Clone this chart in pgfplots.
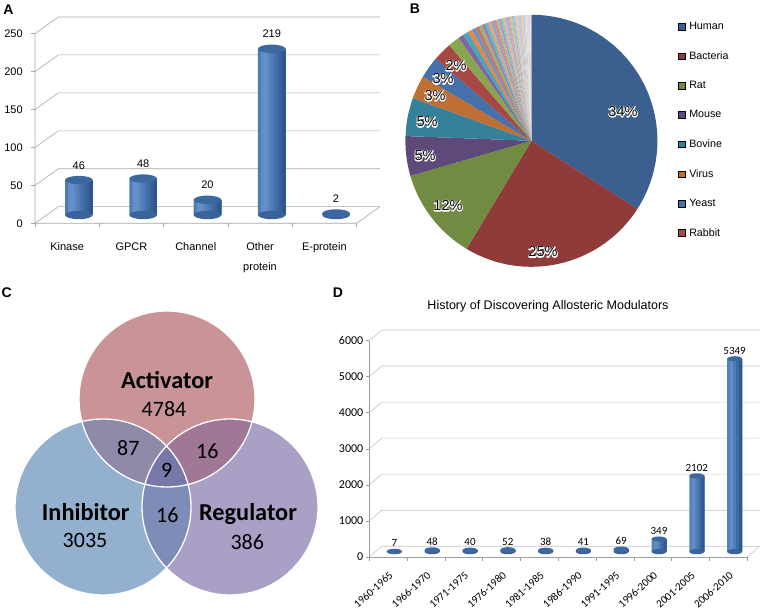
\documentclass[border=0pt]{standalone}
\usepackage{fontspec}
\setmainfont{Liberation Sans}
\newfontfamily\calfont{Carlito}
\usepackage{pgfplots}
\pgfplotsset{compat=1.18}
\usepackage{pgfplotstable}

\definecolor{cylT}{HTML}{3C689F}
\definecolor{cylB}{HTML}{3A6399}
\definecolor{sA1}{HTML}{4E7CB5}
\definecolor{sA2}{HTML}{618EC7}
\definecolor{sA3}{HTML}{6491CA}
\definecolor{sA4}{HTML}{5A87C1}
\definecolor{sA5}{HTML}{4F7DB7}
\definecolor{sA6}{HTML}{4573AE}
\definecolor{sA7}{HTML}{3E69A2}
\definecolor{sA8}{HTML}{365F96}
\definecolor{sA9}{HTML}{2F558A}
\definecolor{sD1}{HTML}{5683BC}
\definecolor{sD2}{HTML}{628FC8}
\definecolor{sD3}{HTML}{4F7DB7}
\definecolor{sD4}{HTML}{3F6BA4}
\definecolor{sD5}{HTML}{32598F}
\definecolor{gridA}{HTML}{A6A6A6}
\definecolor{gridD}{HTML}{C4C4C4}
\definecolor{pH}{HTML}{3B5F8E}
\definecolor{pB}{HTML}{8E3B3A}
\definecolor{pR}{HTML}{728B43}
\definecolor{pM}{HTML}{5E4A7A}
\definecolor{pBo}{HTML}{36819A}
\definecolor{pVi}{HTML}{C06F34}
\definecolor{pYe}{HTML}{4670AA}
\definecolor{pRa}{HTML}{A84845}
\definecolor{sG}{HTML}{8AA552}
\definecolor{sP}{HTML}{7E65A0}
\definecolor{sT}{HTML}{4BA3BC}
\definecolor{sO}{HTML}{E08A45}
\definecolor{sB}{HTML}{5A87C2}
\definecolor{sR}{HTML}{C0605C}
\definecolor{vA}{HTML}{C99398}
\definecolor{vI}{HTML}{93B0CF}
\definecolor{vR}{HTML}{AAA0C6}
\definecolor{vAI}{HTML}{8E8AA8}
\definecolor{vAR}{HTML}{A07896}
\definecolor{vIR}{HTML}{7D8DB8}
\definecolor{vAIR}{HTML}{7878A8}

\pgfdeclareplotmark{ellA}{\pgfpathellipse{\pgfpointorigin}{\pgfqpoint{13.8pt}{0pt}}{\pgfqpoint{0pt}{4.2pt}}\pgfusepathqfill}
\pgfdeclareplotmark{ellD}{\pgfpathellipse{\pgfpointorigin}{\pgfqpoint{7.5pt}{0pt}}{\pgfqpoint{0pt}{2.6pt}}\pgfusepathqfill}

\pgfplotsset{
  /pgf/number format/assume math mode=true,
  /pgf/number format/1000 sep={},
  piesq/.style={legend image code/.code={\fill[##1] (0pt,-3.3pt) rectangle (6.6pt,3.3pt);}},
  stripe/.style n args={3}{ybar, bar width=#1, bar shift=#2, fill=#3, draw=none},
}

\pgfplotstableread{
x y b
0 46 0
1 48 0
2 20 0
3 219 0
4 2 0
}\dataA

\pgfplotstableread{
x y b
0 7 0
1 48 0
2 40 0
3 52 0
4 38 0
5 41 0
6 69 0
7 349 0
8 2102 0
9 5349 0
}\dataD

\newcommand\pielab{\fontsize{14.5}{16}\selectfont}
\newcommand\halo[3]{%
  \node[text=white, font=\pielab] at (#1pt,#2pt) {\special{pdf:literal direct 1 Tr 1.8 w 1 j}#3\special{pdf:literal direct 0 Tr}};%
  \node[text=black, font=\pielab] at (#1pt,#2pt) {#3};}
\newcommand\vbig{\calfont\bfseries\fontsize{24.3}{27}\selectfont}
\newcommand\vnum{\calfont\fontsize{22}{25}\selectfont}

\begin{document}
\begin{tikzpicture}
\useasboundingbox (0,0) rectangle (763pt,612pt);

% ---------------- Panel A ----------------
\begin{axis}[at={(46.7pt,397pt)}, anchor=south west, scale only axis,
  width=321.5pt, height=189.7pt, xmin=-0.5, xmax=4.5, ymin=0, ymax=250,
  clip=false, axis line style={draw=none}, tick style={draw=none}, major tick length=0pt,
  xtick={0,...,4}, xticklabels={Kinase,GPCR,Channel,{Other\\protein},E-protein},
  xticklabel style={align=center, font=\fontsize{11}{20}\selectfont, xshift=-11.7pt, yshift=-24.3pt, anchor=north},
  ytick={0,50,...,250},
  yticklabel style={font=\fontsize{11}{13}\selectfont, anchor=east, xshift=-20.5pt, yshift=-8.3pt}]
\pgfplotsinvokeforeach{0,50,...,250}{
  \draw[gridA, line width=0.6pt] ([shift={(-11.7pt,-8.3pt)}]axis cs:-0.5,#1) -- ([shift={(11.7pt,8.3pt)}]axis cs:-0.5,#1) -- ([shift={(11.7pt,8.3pt)}]axis cs:4.5,#1);
  \draw[gridA, line width=0.6pt] ([shift={(-11.7pt,-8.3pt)}]axis cs:-0.5,#1) -- ++(-4pt,0pt);
}
\draw[gridA, line width=0.6pt] ([shift={(-11.7pt,-8.3pt)}]axis cs:-0.5,250) -- ([shift={(-11.7pt,-8.3pt)}]axis cs:-0.5,0) -- ([shift={(-11.7pt,-8.3pt)}]axis cs:4.5,0) -- ([shift={(11.7pt,8.3pt)}]axis cs:4.5,0);
\pgfplotsinvokeforeach{-0.5,0.5,...,4.5}{
  \draw[gridA, line width=0.6pt] ([shift={(-11.7pt,-8.3pt)}]axis cs:#1,0) -- ++(0pt,-4pt);
}
\addplot[only marks, mark=ellA, mark options={fill=cylB, draw=none}] table[x=x, y=b] {\dataA};
\addplot[stripe={27.6pt}{0pt}{sA1}] table[x=x, y=y] {\dataA};
\addplot[stripe={24.53pt}{1.533pt}{sA2}] table[x=x, y=y] {\dataA};
\addplot[stripe={21.47pt}{3.067pt}{sA3}] table[x=x, y=y] {\dataA};
\addplot[stripe={18.4pt}{4.6pt}{sA4}] table[x=x, y=y] {\dataA};
\addplot[stripe={15.33pt}{6.133pt}{sA5}] table[x=x, y=y] {\dataA};
\addplot[stripe={12.27pt}{7.667pt}{sA6}] table[x=x, y=y] {\dataA};
\addplot[stripe={9.2pt}{9.2pt}{sA7}] table[x=x, y=y] {\dataA};
\addplot[stripe={6.13pt}{10.733pt}{sA8}] table[x=x, y=y] {\dataA};
\addplot[stripe={3.07pt}{12.267pt}{sA9}] table[x=x, y=y] {\dataA};
\addplot[only marks, mark=ellA, mark options={fill=cylT, draw=none}, nodes near coords,
  every node near coord/.append style={text=black, anchor=base, yshift=11pt, font=\fontsize{11}{13}\selectfont}]
  table[x=x, y=y] {\dataA};
\end{axis}

% ---------------- Panel B ----------------
\begin{axis}[at={(405.4pt,345.2pt)}, anchor=south west, scale only axis,
  width=252pt, height=252pt, xmin=-1, xmax=1, ymin=-1, ymax=1, hide axis, clip=false,
  legend cell align=left,
  legend style={at={(1.082,0.979)}, anchor=north west, draw=none, fill=none,
    font=\fontsize{10.7}{12}\selectfont, row sep=16.4pt, column sep=2pt, inner sep=0pt}]
\gdef\pieangle{90}
\foreach \v/\c in {34.1/pH, 24.5/pB, 11.9/pR, 5.1/pM, 4.9/pBo, 3.0/pVi, 2.8/pYe, 2.4/pRa,
  1.5/sG, 0.7/sP, 0.7/sT, 0.6/sO, 0.5/sB!90!white, 0.45/sR!88!white, 0.45/sG!85!white,
  0.4/sP!82!white, 0.4/sT!80!white, 0.4/sO!78!white, 0.35/sB!75!white, 0.35/sR!72!white,
  0.3/sG!70!white, 0.3/sP!67!white, 0.3/sT!64!white, 0.3/sO!62!white, 0.28/sB!60!white,
  0.28/sR!57!white, 0.26/sG!55!white, 0.26/sP!52!white, 0.25/sT!50!white, 0.25/sO!47!white,
  0.22/sB!45!white, 0.22/sR!42!white, 0.2/sG!40!white, 0.2/sP!37!white, 0.2/sT!35!white,
  0.2/sO!32!white, 0.18/sB!30!white, 0.18/sR!28!white, 0.12/gray!25!white}{%
  \pgfmathsetmacro\pend{\pieangle-3.6*\v}%
  \edef\tmp{\noexpand\fill[\c] (axis cs:0,0) -- (axis cs:{cos(\pieangle)},{sin(\pieangle)}) arc[start angle=\pieangle, end angle=\pend, radius=126pt] -- cycle;}%
  \tmp
  \xdef\pieangle{\pend}%
}
\addlegendimage{piesq, fill=pH}
\addlegendimage{piesq, fill=pB}
\addlegendimage{piesq, fill=pR}
\addlegendimage{piesq, fill=pM}
\addlegendimage{piesq, fill=pBo}
\addlegendimage{piesq, fill=pVi}
\addlegendimage{piesq, fill=pYe}
\addlegendimage{piesq, fill=pRa}
\legend{Human,Bacteria,Rat,Mouse,Bovine,Virus,Yeast,Rabbit}
\end{axis}
\halo{623}{500.3}{34\%}
\halo{543}{360}{25\%}
\halo{448}{406.3}{12\%}
\halo{425}{456.3}{5\%}
\halo{427}{490}{5\%}
\halo{435}{516.3}{3\%}
\halo{443}{533}{3\%}
\halo{456}{546.3}{2\%}

% ---------------- Panel C ----------------
\begin{axis}[at={(0pt,0pt)}, anchor=south west, scale only axis,
  width=330pt, height=340pt, xmin=0, xmax=330, ymin=0, ymax=340, hide axis, clip=false]
\fill[vA] (axis cs:167,213) circle[radius=88pt];
\fill[vI] (axis cs:103,105) circle[radius=88pt];
\fill[vR] (axis cs:230,105) circle[radius=88pt];
\begin{scope}
\clip (axis cs:103,105) circle[radius=88pt];
\fill[vIR] (axis cs:230,105) circle[radius=88pt];
\end{scope}
\begin{scope}
\clip (axis cs:167,213) circle[radius=88pt];
\fill[vAI] (axis cs:103,105) circle[radius=88pt];
\fill[vAR] (axis cs:230,105) circle[radius=88pt];
\clip (axis cs:103,105) circle[radius=88pt];
\fill[vAIR] (axis cs:230,105) circle[radius=88pt];
\end{scope}
\draw[white, line width=1.3pt] (axis cs:167,213) circle[radius=88pt];
\draw[white, line width=1.3pt] (axis cs:103,105) circle[radius=88pt];
\draw[white, line width=1.3pt] (axis cs:230,105) circle[radius=88pt];
\node[font=\vbig] at (axis cs:167,232) {Activator};
\node[font=\vnum] at (axis cs:164,202.5) {4784};
\node[font=\vnum] at (axis cs:128.3,163.7) {87};
\node[font=\vnum] at (axis cs:207.3,161.3) {16};
\node[font=\vnum] at (axis cs:166.7,141.3) {9};
\node[font=\vnum] at (axis cs:167.3,97) {16};
\node[font=\vbig] at (axis cs:85.7,99.7) {Inhibitor};
\node[font=\vnum] at (axis cs:85,72) {3035};
\node[font=\vbig] at (axis cs:248,98) {Regulator};
\node[font=\vnum] at (axis cs:247.3,70.3) {386};
\end{axis}

% ---------------- Panel D ----------------
\begin{axis}[at={(375.5pt,60.35pt)}, anchor=south west, scale only axis,
  width=378pt, height=216.3pt, xmin=-0.5, xmax=9.5, ymin=0, ymax=6000,
  clip=false, axis line style={draw=none}, tick style={draw=none}, major tick length=0pt,
  scaled y ticks=false,
  xtick={0,...,9},
  xticklabels={1960-1965,1966-1970,1971-1975,1976-1980,1981-1985,1986-1990,1991-1995,1996-2000,2001-2005,2006-2010},
  xticklabel style={font=\calfont\fontsize{11}{13}\selectfont, xshift=-2.5pt, yshift=-21.3pt, rotate=42, anchor=east, inner sep=1pt},
  ytick={0,1000,...,6000},
  yticklabel style={font=\calfont\fontsize{12}{14}\selectfont, anchor=east, xshift=-8.7pt, yshift=-5.35pt}]
\pgfplotsinvokeforeach{0,1000,...,6000}{
  \draw[gridD, line width=0.6pt] ([shift={(-6.2pt,-5.35pt)}]axis cs:-0.5,#1) -- ([shift={(6.2pt,5.35pt)}]axis cs:-0.5,#1) -- ([shift={(6.2pt,5.35pt)}]axis cs:9.5,#1);
  \draw[gridD!80!black, line width=0.6pt] ([shift={(-6.2pt,-5.35pt)}]axis cs:-0.5,#1) -- ++(-3.5pt,0pt);
}
\draw[gridD!80!black, line width=0.6pt] ([shift={(-6.2pt,-5.35pt)}]axis cs:-0.5,6000) -- ([shift={(-6.2pt,-5.35pt)}]axis cs:-0.5,0) -- ([shift={(-6.2pt,-5.35pt)}]axis cs:9.5,0);
\draw[gridD, line width=0.6pt] ([shift={(-6.2pt,-5.35pt)}]axis cs:9.5,0) -- ([shift={(6.2pt,5.35pt)}]axis cs:9.5,0);
\pgfplotsinvokeforeach{-0.5,0.5,...,9.5}{
  \draw[gridD!80!black, line width=0.6pt] ([shift={(-6.2pt,-5.35pt)}]axis cs:#1,0) -- ++(0pt,-4pt);
}
\addplot[only marks, mark=ellD, mark options={fill=cylB, draw=none}] table[x=x, y=b] {\dataD};
\addplot[stripe={15pt}{0pt}{sD1}] table[x=x, y=y] {\dataD};
\addplot[stripe={12pt}{1.5pt}{sD2}] table[x=x, y=y] {\dataD};
\addplot[stripe={9pt}{3pt}{sD3}] table[x=x, y=y] {\dataD};
\addplot[stripe={6pt}{4.5pt}{sD4}] table[x=x, y=y] {\dataD};
\addplot[stripe={3pt}{6pt}{sD5}] table[x=x, y=y] {\dataD};
\addplot[only marks, mark=ellD, mark options={fill=cylT, draw=none}, nodes near coords,
  every node near coord/.append style={text=black, anchor=base, yshift=4.5pt, font=\calfont\fontsize{11}{13}\selectfont}]
  table[x=x, y=y] {\dataD};
\end{axis}
\node[font=\fontsize{12.5}{14}\selectfont] at (548pt,305.3pt) {History of Discovering Allosteric Modulators};

% panel letters
\node[font=\fontsize{14}{16}\selectfont\bfseries] at (8.5pt,602pt) {A};
\node[font=\fontsize{14}{16}\selectfont\bfseries] at (415pt,603.5pt) {B};
\node[font=\fontsize{14}{16}\selectfont\bfseries] at (6.7pt,319pt) {C};
\node[font=\fontsize{14}{16}\selectfont\bfseries] at (338pt,319pt) {D};
\end{tikzpicture}
\end{document}
